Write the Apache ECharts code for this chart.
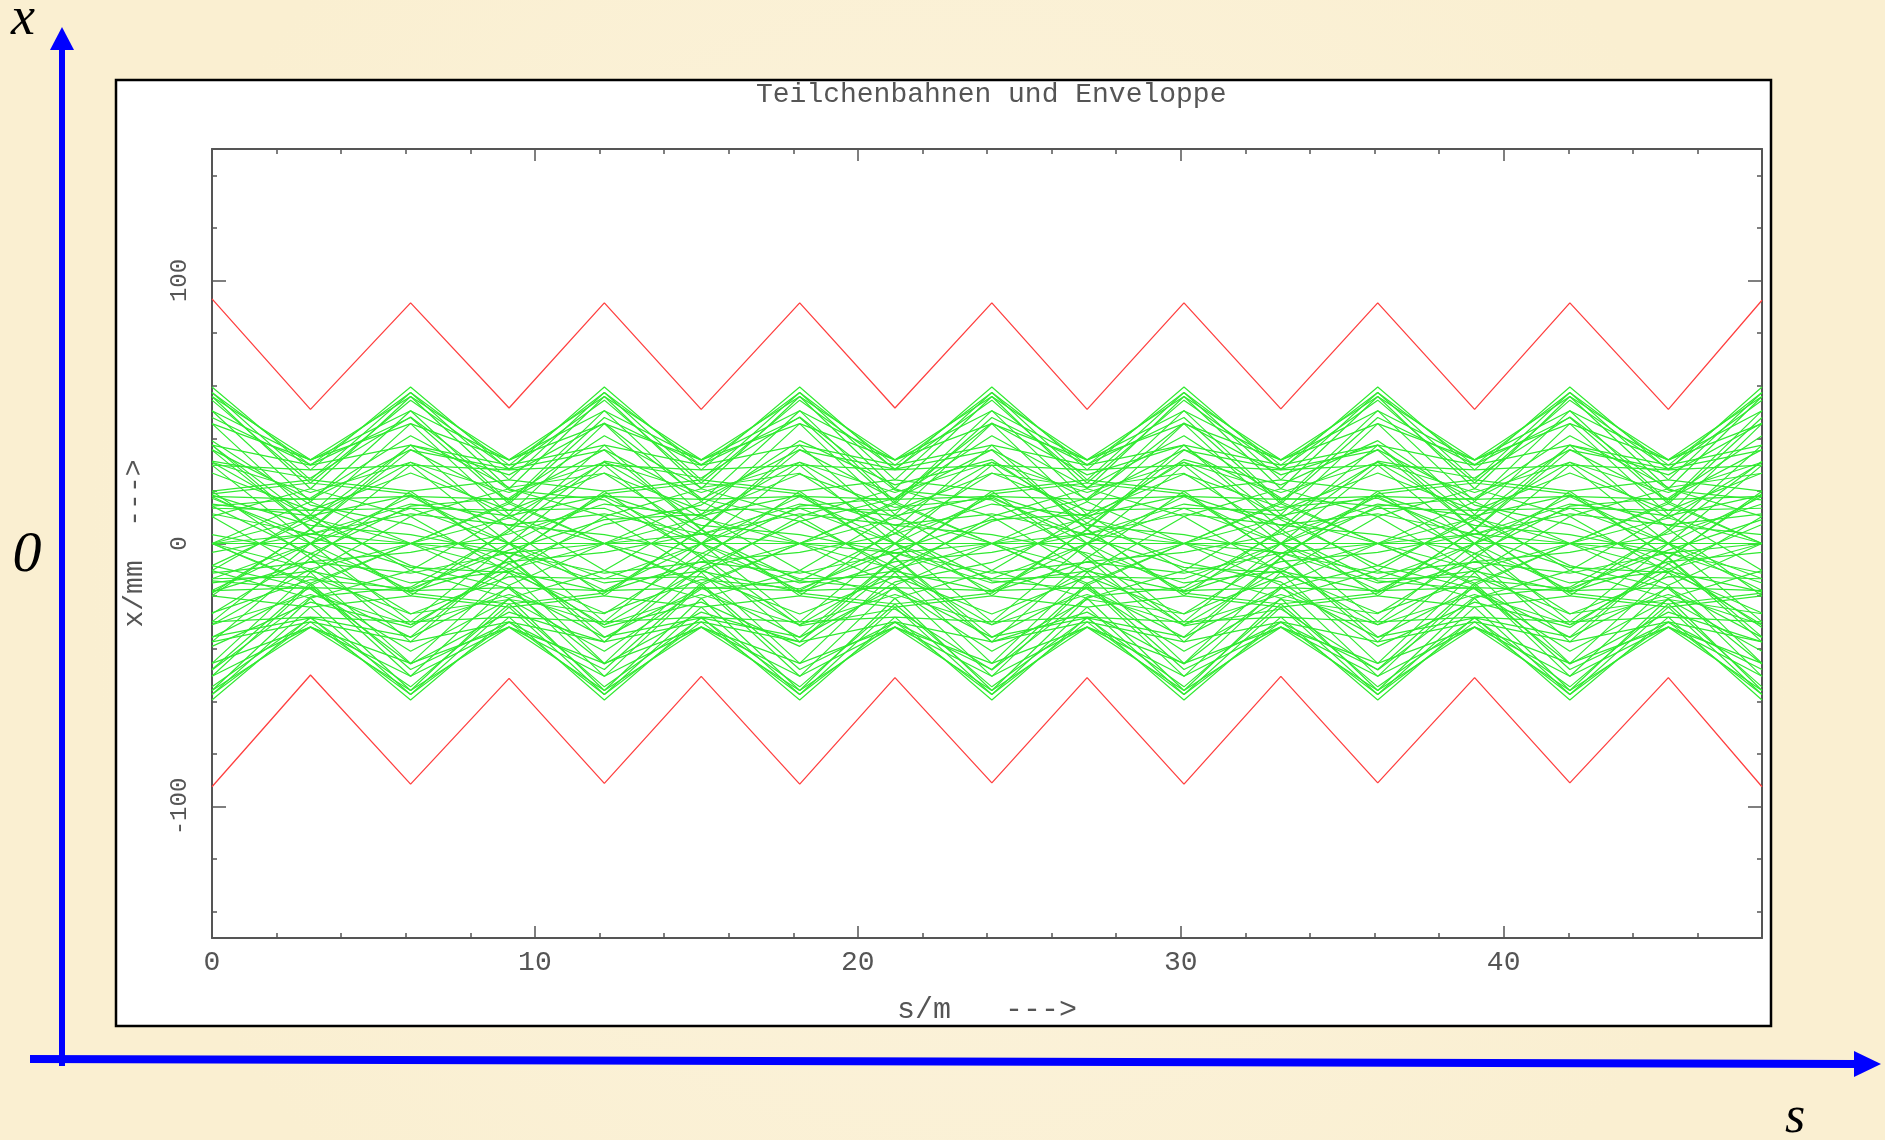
<!DOCTYPE html>
<html><head><meta charset="utf-8">
<script src="https://cdn.jsdelivr.net/npm/echarts@6/dist/echarts.min.js"></script>
<style>html,body{margin:0;padding:0;background:#FAF0D4;} #c{width:1885px;height:1140px;}</style>
</head><body><div id="c"></div>
<script>
// lens (kink) positions along s in m
const sPos = [0, 3.05, 6.15, 9.2, 12.15, 15.15, 18.2, 21.15, 24.15, 27.1, 30.1, 33.1, 36.1, 39.1, 42.05, 45.1, 48];
// red envelope (mm)
const envUpper = [93, 51, 91.5, 51.5, 91.5, 51, 91.5, 51.5, 91.5, 51, 91.5, 51.2, 91.5, 51, 91.5, 51, 92.5];
const envLower = [-92.5, -50, -91.5, -51.3, -91.2, -50.5, -91.5, -51, -91, -51, -91.5, -50.5, -91, -51, -91, -51, -92.5];
// tick positions
const xMajorTicks = [0, 10, 20, 30, 40];
const xMinorTicks = [0,2,4,6,8,10,12,14,16,18,20,22,24,26,28,30,32,34,36,38,40,42,44,46,48];
const yMajorTicks = [-100, 0, 100];
const yMinorTicks = [-140,-120,-100,-80,-60,-40,-20,0,20,40,60,80,100,120,140];

// particle trajectories x/mm at the lens positions
const tA000 = [59.5, 28.0, 29.8, 0, -29.8, -28.0, -59.5, -28.0, -29.8, 0, 29.8, 28.0, 59.5, 28.0, 29.8, 0, -29.8];
const tA020 = [55.9, 20.8, 10.3, -11.0, -45.6, -31.8, -55.9, -20.8, -10.3, 11.0, 45.6, 31.8, 55.9, 20.8, 10.3, -11.0, -45.6];
const tA040 = [45.6, 11.0, -10.3, -20.8, -55.9, -31.8, -45.6, -11.0, 10.3, 20.8, 55.9, 31.8, 45.6, 11.0, -10.3, -20.8, -55.9];
const tA060 = [29.8, 0, -29.8, -28.0, -59.5, -28.0, -29.8, 0, 29.8, 28.0, 59.5, 28.0, 29.8, 0, -29.8, -28.0, -59.5];
const tA080 = [10.3, -11.0, -45.6, -31.8, -55.9, -20.8, -10.3, 11.0, 45.6, 31.8, 55.9, 20.8, 10.3, -11.0, -45.6, -31.8, -55.9];
const tA100 = [-10.3, -20.8, -55.9, -31.8, -45.6, -11.0, 10.3, 20.8, 55.9, 31.8, 45.6, 11.0, -10.3, -20.8, -55.9, -31.8, -45.6];
const tA120 = [-29.8, -28.0, -59.5, -28.0, -29.8, 0, 29.8, 28.0, 59.5, 28.0, 29.8, 0, -29.8, -28.0, -59.5, -28.0, -29.8];
const tA140 = [-45.6, -31.8, -55.9, -20.8, -10.3, 11.0, 45.6, 31.8, 55.9, 20.8, 10.3, -11.0, -45.6, -31.8, -55.9, -20.8, -10.3];
const tA160 = [-55.9, -31.8, -45.6, -11.0, 10.3, 20.8, 55.9, 31.8, 45.6, 11.0, -10.3, -20.8, -55.9, -31.8, -45.6, -11.0, 10.3];
const tA180 = [-59.5, -28.0, -29.8, 0, 29.8, 28.0, 59.5, 28.0, 29.8, 0, -29.8, -28.0, -59.5, -28.0, -29.8, 0, 29.8];
const tA200 = [-55.9, -20.8, -10.3, 11.0, 45.6, 31.8, 55.9, 20.8, 10.3, -11.0, -45.6, -31.8, -55.9, -20.8, -10.3, 11.0, 45.6];
const tA220 = [-45.6, -11.0, 10.3, 20.8, 55.9, 31.8, 45.6, 11.0, -10.3, -20.8, -55.9, -31.8, -45.6, -11.0, 10.3, 20.8, 55.9];
const tA240 = [-29.8, 0, 29.8, 28.0, 59.5, 28.0, 29.8, 0, -29.8, -28.0, -59.5, -28.0, -29.8, 0, 29.8, 28.0, 59.5];
const tA260 = [-10.3, 11.0, 45.6, 31.8, 55.9, 20.8, 10.3, -11.0, -45.6, -31.8, -55.9, -20.8, -10.3, 11.0, 45.6, 31.8, 55.9];
const tA280 = [10.3, 20.8, 55.9, 31.8, 45.6, 11.0, -10.3, -20.8, -55.9, -31.8, -45.6, -11.0, 10.3, 20.8, 55.9, 31.8, 45.6];
const tA300 = [29.8, 28.0, 59.5, 28.0, 29.8, 0, -29.8, -28.0, -59.5, -28.0, -29.8, 0, 29.8, 28.0, 59.5, 28.0, 29.8];
const tA320 = [45.6, 31.8, 55.9, 20.8, 10.3, -11.0, -45.6, -31.8, -55.9, -20.8, -10.3, 11.0, 45.6, 31.8, 55.9, 20.8, 10.3];
const tA340 = [55.9, 31.8, 45.6, 11.0, -10.3, -20.8, -55.9, -31.8, -45.6, -11.0, 10.3, 20.8, 55.9, 31.8, 45.6, 11.0, -10.3];
const tB010 = [54.5, 23.0, 18.9, -5.2, -35.5, -28.3, -54.5, -23.0, -18.9, 5.2, 35.5, 28.3, 54.5, 23.0, 18.9, -5.2, -35.5];
const tB050 = [35.5, 5.2, -18.9, -23.0, -54.5, -28.3, -35.5, -5.2, 18.9, 23.0, 54.5, 28.3, 35.5, 5.2, -18.9, -23.0, -54.5];
const tB090 = [0, -15.1, -47.9, -30.0, -47.9, -15.1, 0, 15.1, 47.9, 30.0, 47.9, 15.1, 0, -15.1, -47.9, -30.0, -47.9];
const tB130 = [-35.5, -28.3, -54.5, -23.0, -18.9, 5.2, 35.5, 28.3, 54.5, 23.0, 18.9, -5.2, -35.5, -28.3, -54.5, -23.0, -18.9];
const tB170 = [-54.5, -28.3, -35.5, -5.2, 18.9, 23.0, 54.5, 28.3, 35.5, 5.2, -18.9, -23.0, -54.5, -28.3, -35.5, -5.2, 18.9];
const tB210 = [-47.9, -15.1, 0, 15.1, 47.9, 30.0, 47.9, 15.1, 0, -15.1, -47.9, -30.0, -47.9, -15.1, 0, 15.1, 47.9];
const tB250 = [-18.9, 5.2, 35.5, 28.3, 54.5, 23.0, 18.9, -5.2, -35.5, -28.3, -54.5, -23.0, -18.9, 5.2, 35.5, 28.3, 54.5];
const tB290 = [18.9, 23.0, 54.5, 28.3, 35.5, 5.2, -18.9, -23.0, -54.5, -28.3, -35.5, -5.2, 18.9, 23.0, 54.5, 28.3, 35.5];
const tB330 = [47.9, 30.0, 47.9, 15.1, 0, -15.1, -47.9, -30.0, -47.9, -15.1, 0, 15.1, 47.9, 30.0, 47.9, 15.1, 0];
const tC020 = [39.1, 14.6, 7.2, -7.7, -31.9, -22.3, -39.1, -14.6, -7.2, 7.7, 31.9, 22.3, 39.1, 14.6, 7.2, -7.7, -31.9];
const tC070 = [14.2, -3.9, -26.7, -21.3, -41.0, -17.3, -14.2, 3.9, 26.7, 21.3, 41.0, 17.3, 14.2, -3.9, -26.7, -21.3, -41.0];
const tC110 = [-14.2, -17.3, -41.0, -21.3, -26.7, -3.9, 14.2, 17.3, 41.0, 21.3, 26.7, 3.9, -14.2, -17.3, -41.0, -21.3, -26.7];
const tC160 = [-39.1, -22.3, -31.9, -7.7, 7.2, 14.6, 39.1, 22.3, 31.9, 7.7, -7.2, -14.6, -39.1, -22.3, -31.9, -7.7, 7.2];
const tC230 = [-26.7, -3.9, 14.2, 17.3, 41.0, 21.3, 26.7, 3.9, -14.2, -17.3, -41.0, -21.3, -26.7, -3.9, 14.2, 17.3, 41.0];
const tC290 = [14.2, 17.3, 41.0, 21.3, 26.7, 3.9, -14.2, -17.3, -41.0, -21.3, -26.7, -3.9, 14.2, 17.3, 41.0, 21.3, 26.7];
const tD000 = [26.8, 12.6, 13.4, 0, -13.4, -12.6, -26.8, -12.6, -13.4, 0, 13.4, 12.6, 26.8, 12.6, 13.4, 0, -13.4];
const tD050 = [17.2, 2.5, -9.1, -11.1, -26.4, -13.7, -17.2, -2.5, 9.1, 11.1, 26.4, 13.7, 17.2, 2.5, -9.1, -11.1, -26.4];
const tD120 = [-13.4, -12.6, -26.8, -12.6, -13.4, 0, 13.4, 12.6, 26.8, 12.6, 13.4, 0, -13.4, -12.6, -26.8, -12.6, -13.4];
const tD170 = [-26.4, -13.7, -17.2, -2.5, 9.1, 11.1, 26.4, 13.7, 17.2, 2.5, -9.1, -11.1, -26.4, -13.7, -17.2, -2.5, 9.1];
const tD240 = [-13.4, 0, 13.4, 12.6, 26.8, 12.6, 13.4, 0, -13.4, -12.6, -26.8, -12.6, -13.4, 0, 13.4, 12.6, 26.8];
const tD300 = [13.4, 12.6, 26.8, 12.6, 13.4, 0, -13.4, -12.6, -26.8, -12.6, -13.4, 0, 13.4, 12.6, 26.8, 12.6, 13.4];
const tE040 = [37.4, 9.0, -8.4, -17.1, -45.8, -26.1, -37.4, -9.0, 8.4, 17.1, 45.8, 26.1, 37.4, 9.0, -8.4, -17.1, -45.8];
const tE100 = [-8.4, -17.1, -45.8, -26.1, -37.4, -9.0, 8.4, 17.1, 45.8, 26.1, 37.4, 9.0, -8.4, -17.1, -45.8, -26.1, -37.4];
const tE190 = [-48.1, -20.3, -16.6, 4.6, 31.3, 24.9, 48.1, 20.3, 16.6, -4.6, -31.3, -24.9, -48.1, -20.3, -16.6, 4.6, 31.3];
const tE260 = [-8.4, 9.0, 37.4, 26.1, 45.8, 17.1, 8.4, -9.0, -37.4, -26.1, -45.8, -17.1, -8.4, 9.0, 37.4, 26.1, 45.8];
const tE310 = [31.3, 24.9, 48.1, 20.3, 16.6, -4.6, -31.3, -24.9, -48.1, -20.3, -16.6, 4.6, 31.3, 24.9, 48.1, 20.3, 16.6];
const tF030 = [11.3, 3.6, 0, -3.6, -11.3, -7.1, -11.3, -3.6, 0, 3.6, 11.3, 7.1, 11.3, 3.6, 0, -3.6, -11.3];
const tF150 = [-11.3, -7.1, -11.3, -3.6, 0, 3.6, 11.3, 7.1, 11.3, 3.6, 0, -3.6, -11.3, -7.1, -11.3, -3.6, 0];
const tF270 = [0, 3.6, 11.3, 7.1, 11.3, 3.6, 0, -3.6, -11.3, -7.1, -11.3, -3.6, 0, 3.6, 11.3, 7.1, 11.3];
const tG010 = [57.4, 24.2, 19.9, -5.5, -37.4, -29.8, -57.4, -24.2, -19.9, 5.5, 37.4, 29.8, 57.4, 24.2, 19.9, -5.5, -37.4];
const tG030 = [50.5, 15.9, 0, -15.9, -50.5, -31.7, -50.5, -15.9, 0, 15.9, 50.5, 31.7, 50.5, 15.9, 0, -15.9, -50.5];
const tG050 = [37.4, 5.5, -19.9, -24.2, -57.4, -29.8, -37.4, -5.5, 19.9, 24.2, 57.4, 29.8, 37.4, 5.5, -19.9, -24.2, -57.4];
const tG070 = [19.9, -5.5, -37.4, -29.8, -57.4, -24.2, -19.9, 5.5, 37.4, 29.8, 57.4, 24.2, 19.9, -5.5, -37.4, -29.8, -57.4];
const tG090 = [0, -15.9, -50.5, -31.7, -50.5, -15.9, 0, 15.9, 50.5, 31.7, 50.5, 15.9, 0, -15.9, -50.5, -31.7, -50.5];
const tG110 = [-19.9, -24.2, -57.4, -29.8, -37.4, -5.5, 19.9, 24.2, 57.4, 29.8, 37.4, 5.5, -19.9, -24.2, -57.4, -29.8, -37.4];
const tG130 = [-37.4, -29.8, -57.4, -24.2, -19.9, 5.5, 37.4, 29.8, 57.4, 24.2, 19.9, -5.5, -37.4, -29.8, -57.4, -24.2, -19.9];
const tG150 = [-50.5, -31.7, -50.5, -15.9, 0, 15.9, 50.5, 31.7, 50.5, 15.9, 0, -15.9, -50.5, -31.7, -50.5, -15.9, 0];
const tG170 = [-57.4, -29.8, -37.4, -5.5, 19.9, 24.2, 57.4, 29.8, 37.4, 5.5, -19.9, -24.2, -57.4, -29.8, -37.4, -5.5, 19.9];
const tG190 = [-57.4, -24.2, -19.9, 5.5, 37.4, 29.8, 57.4, 24.2, 19.9, -5.5, -37.4, -29.8, -57.4, -24.2, -19.9, 5.5, 37.4];
const tG210 = [-50.5, -15.9, 0, 15.9, 50.5, 31.7, 50.5, 15.9, 0, -15.9, -50.5, -31.7, -50.5, -15.9, 0, 15.9, 50.5];
const tG230 = [-37.4, -5.5, 19.9, 24.2, 57.4, 29.8, 37.4, 5.5, -19.9, -24.2, -57.4, -29.8, -37.4, -5.5, 19.9, 24.2, 57.4];
const tG250 = [-19.9, 5.5, 37.4, 29.8, 57.4, 24.2, 19.9, -5.5, -37.4, -29.8, -57.4, -24.2, -19.9, 5.5, 37.4, 29.8, 57.4];
const tG270 = [0, 15.9, 50.5, 31.7, 50.5, 15.9, 0, -15.9, -50.5, -31.7, -50.5, -15.9, 0, 15.9, 50.5, 31.7, 50.5];
const tG290 = [19.9, 24.2, 57.4, 29.8, 37.4, 5.5, -19.9, -24.2, -57.4, -29.8, -37.4, -5.5, 19.9, 24.2, 57.4, 29.8, 37.4];
const tG310 = [37.4, 29.8, 57.4, 24.2, 19.9, -5.5, -37.4, -29.8, -57.4, -24.2, -19.9, 5.5, 37.4, 29.8, 57.4, 24.2, 19.9];
const tG330 = [50.5, 31.7, 50.5, 15.9, 0, -15.9, -50.5, -31.7, -50.5, -15.9, 0, 15.9, 50.5, 31.7, 50.5, 15.9, 0];
const tG350 = [57.4, 29.8, 37.4, 5.5, -19.9, -24.2, -57.4, -29.8, -37.4, -5.5, 19.9, 24.2, 57.4, 29.8, 37.4, 5.5, -19.9];
const tH000 = [35.7, 16.8, 17.9, 0, -17.9, -16.8, -35.7, -16.8, -17.9, 0, 17.9, 16.8, 35.7, 16.8, 17.9, 0, -17.9];
const tH030 = [30.9, 9.7, 0, -9.7, -30.9, -19.4, -30.9, -9.7, 0, 9.7, 30.9, 19.4, 30.9, 9.7, 0, -9.7, -30.9];
const tH060 = [17.9, 0, -17.9, -16.8, -35.7, -16.8, -17.9, 0, 17.9, 16.8, 35.7, 16.8, 17.9, 0, -17.9, -16.8, -35.7];
const tH090 = [0, -9.7, -30.9, -19.4, -30.9, -9.7, 0, 9.7, 30.9, 19.4, 30.9, 9.7, 0, -9.7, -30.9, -19.4, -30.9];
const tH120 = [-17.9, -16.8, -35.7, -16.8, -17.9, 0, 17.9, 16.8, 35.7, 16.8, 17.9, 0, -17.9, -16.8, -35.7, -16.8, -17.9];
const tH150 = [-30.9, -19.4, -30.9, -9.7, 0, 9.7, 30.9, 19.4, 30.9, 9.7, 0, -9.7, -30.9, -19.4, -30.9, -9.7, 0];
const tH180 = [-35.7, -16.8, -17.9, 0, 17.9, 16.8, 35.7, 16.8, 17.9, 0, -17.9, -16.8, -35.7, -16.8, -17.9, 0, 17.9];
const tH210 = [-30.9, -9.7, 0, 9.7, 30.9, 19.4, 30.9, 9.7, 0, -9.7, -30.9, -19.4, -30.9, -9.7, 0, 9.7, 30.9];
const tH240 = [-17.9, 0, 17.9, 16.8, 35.7, 16.8, 17.9, 0, -17.9, -16.8, -35.7, -16.8, -17.9, 0, 17.9, 16.8, 35.7];
const tH270 = [0, 9.7, 30.9, 19.4, 30.9, 9.7, 0, -9.7, -30.9, -19.4, -30.9, -9.7, 0, 9.7, 30.9, 19.4, 30.9];
const tH300 = [17.9, 16.8, 35.7, 16.8, 17.9, 0, -17.9, -16.8, -35.7, -16.8, -17.9, 0, 17.9, 16.8, 35.7, 16.8, 17.9];
const tH330 = [30.9, 19.4, 30.9, 9.7, 0, -9.7, -30.9, -19.4, -30.9, -9.7, 0, 9.7, 30.9, 19.4, 30.9, 9.7, 0];
const tI020 = [18.4, 6.9, 3.4, -3.6, -15.0, -10.5, -18.4, -6.9, -3.4, 3.6, 15.0, 10.5, 18.4, 6.9, 3.4, -3.6, -15.0];
const tI080 = [3.4, -3.6, -15.0, -10.5, -18.4, -6.9, -3.4, 3.6, 15.0, 10.5, 18.4, 6.9, 3.4, -3.6, -15.0, -10.5, -18.4];
const tI140 = [-15.0, -10.5, -18.4, -6.9, -3.4, 3.6, 15.0, 10.5, 18.4, 6.9, 3.4, -3.6, -15.0, -10.5, -18.4, -6.9, -3.4];
const tI200 = [-18.4, -6.9, -3.4, 3.6, 15.0, 10.5, 18.4, 6.9, 3.4, -3.6, -15.0, -10.5, -18.4, -6.9, -3.4, 3.6, 15.0];
const tI260 = [-3.4, 3.6, 15.0, 10.5, 18.4, 6.9, 3.4, -3.6, -15.0, -10.5, -18.4, -6.9, -3.4, 3.6, 15.0, 10.5, 18.4];
const tI320 = [15.0, 10.5, 18.4, 6.9, 3.4, -3.6, -15.0, -10.5, -18.4, -6.9, -3.4, 3.6, 15.0, 10.5, 18.4, 6.9, 3.4];
const tZero = [0, 0, 0, 0, 0, 0, 0, 0, 0, 0, 0, 0, 0, 0, 0, 0, 0];

const trajectories = [tA000,tA020,tA040,tA060,tA080,tA100,tA120,tA140,tA160,tA180,tA200,tA220,tA240,tA260,tA280,tA300,tA320,tA340,
  tB010,tB050,tB090,tB130,tB170,tB210,tB250,tB290,tB330,
  tC020,tC070,tC110,tC160,tC230,tC290,
  tD000,tD050,tD120,tD170,tD240,tD300,
  tE040,tE100,tE190,tE260,tE310,
  tF030,tF150,tF270,
  tG010,tG030,tG050,tG070,tG090,tG110,tG130,tG150,tG170,tG190,tG210,tG230,tG250,tG270,tG290,tG310,tG330,tG350,
  tH000,tH030,tH060,tH090,tH120,tH150,tH180,tH210,tH240,tH270,tH300,tH330,
  tI020,tI080,tI140,tI200,tI260,tI320,
  tZero];

const chart = echarts.init(document.getElementById('c'), null, {renderer: 'canvas'});
const pts = ys => sPos.map((s, i) => [s, ys[i]]);
const mono = '"Liberation Mono", "DejaVu Sans Mono", monospace';
const axCol = '#555';
const txtCol = '#555';

function xAx(pos, ticks, len, labels, line) {
  return {
    type: 'value', position: pos, min: 0, max: 48,
    axisLine: {show: line, onZero: false, lineStyle: {color: axCol, width: 2}},
    axisTick: {show: true, inside: true, length: len, customValues: ticks, lineStyle: {color: axCol, width: 1.5}},
    axisLabel: labels ? {show: true, customValues: xMajorTicks, margin: 11, fontFamily: mono, fontSize: 28, color: txtCol} : {show: false},
    splitLine: {show: false},
    name: labels ? 's/m   --->' : '',
    nameLocation: 'middle', nameGap: 57,
    nameTextStyle: {fontFamily: mono, fontSize: 30, color: txtCol}
  };
}
function yAx(pos, ticks, len, labels, line) {
  return {
    type: 'value', position: pos, min: -150, max: 150,
    axisLine: {show: line, onZero: false, lineStyle: {color: axCol, width: 2}},
    axisTick: {show: true, inside: true, length: len, customValues: ticks, lineStyle: {color: axCol, width: 1.5}},
    axisLabel: labels ? {show: true, customValues: yMajorTicks, rotate: 90, margin: 20, fontFamily: mono, fontSize: 24, color: txtCol} : {show: false},
    splitLine: {show: false},
    name: labels ? 'x/mm  --->' : '',
    nameLocation: 'middle', nameGap: 63, nameRotate: 90,
    nameTextStyle: {fontFamily: mono, fontSize: 28, color: txtCol}
  };
}

const series = [];
trajectories.forEach(t => series.push({
  type: 'line', data: pts(t), showSymbol: false, symbol: 'none', silent: true,
  lineStyle: {color: '#30ea30', width: 1.2}, z: 3
}));
series.push({type: 'line', data: pts(envUpper), showSymbol: false, symbol: 'none', lineStyle: {color: '#ff4040', width: 1.3}, z: 4});
series.push({type: 'line', data: pts(envLower), showSymbol: false, symbol: 'none', lineStyle: {color: '#ff4040', width: 1.3}, z: 4});

chart.setOption({
  backgroundColor: {type: 'radial', x: 0.5, y: 0.5, r: 0.75,
    colorStops: [{offset: 0, color: '#FCF4DF'}, {offset: 1, color: '#FAEFD1'}]},
  animation: false,
  title: {text: 'Teilchenbahnen und Enveloppe', left: 751, top: 76,
    textStyle: {fontFamily: mono, fontSize: 28, fontWeight: 'normal', color: txtCol}},
  grid: {left: 212, top: 149, width: 1550, height: 789, containLabel: false},
  xAxis: [xAx('bottom', xMajorTicks, 12, true, true), xAx('bottom', xMinorTicks, 5, false, false),
          xAx('top', xMajorTicks, 12, false, true), xAx('top', xMinorTicks, 5, false, false)],
  yAxis: [yAx('left', yMajorTicks, 14, true, true), yAx('left', yMinorTicks, 5, false, false),
          yAx('right', yMajorTicks, 14, false, true), yAx('right', yMinorTicks, 5, false, false)],
  graphic: [
    {type: 'rect', z: -10, shape: {x: 116, y: 80, width: 1655, height: 946}, style: {fill: '#ffffff', stroke: '#000000', lineWidth: 2.5}},
    {type: 'line', z: 10, shape: {x1: 62, y1: 1066, x2: 62, y2: 48}, style: {stroke: '#0000ff', lineWidth: 6}},
    {type: 'polygon', z: 10, shape: {points: [[50, 50], [74, 50], [62, 27]]}, style: {fill: '#0000ff'}},
    {type: 'line', z: 10, shape: {x1: 30, y1: 1059, x2: 1856, y2: 1064}, style: {stroke: '#0000ff', lineWidth: 8}},
    {type: 'polygon', z: 10, shape: {points: [[1854, 1051], [1854, 1077], [1881, 1064]]}, style: {fill: '#0000ff'}},
    {type: 'text', z: 10, style: {text: 'x', x: 23, y: 20, font: 'italic 54px "Liberation Serif"', fill: '#000', align: 'center', verticalAlign: 'middle'}},
    {type: 'text', z: 10, style: {text: '0', x: 27, y: 556, font: 'italic 58px "Liberation Serif"', fill: '#000', align: 'center', verticalAlign: 'middle'}},
    {type: 'text', z: 10, style: {text: 's', x: 1795, y: 1118, font: 'italic 52px "Liberation Serif"', fill: '#000', align: 'center', verticalAlign: 'middle'}}
  ],
  series: series
});
</script></body></html>
